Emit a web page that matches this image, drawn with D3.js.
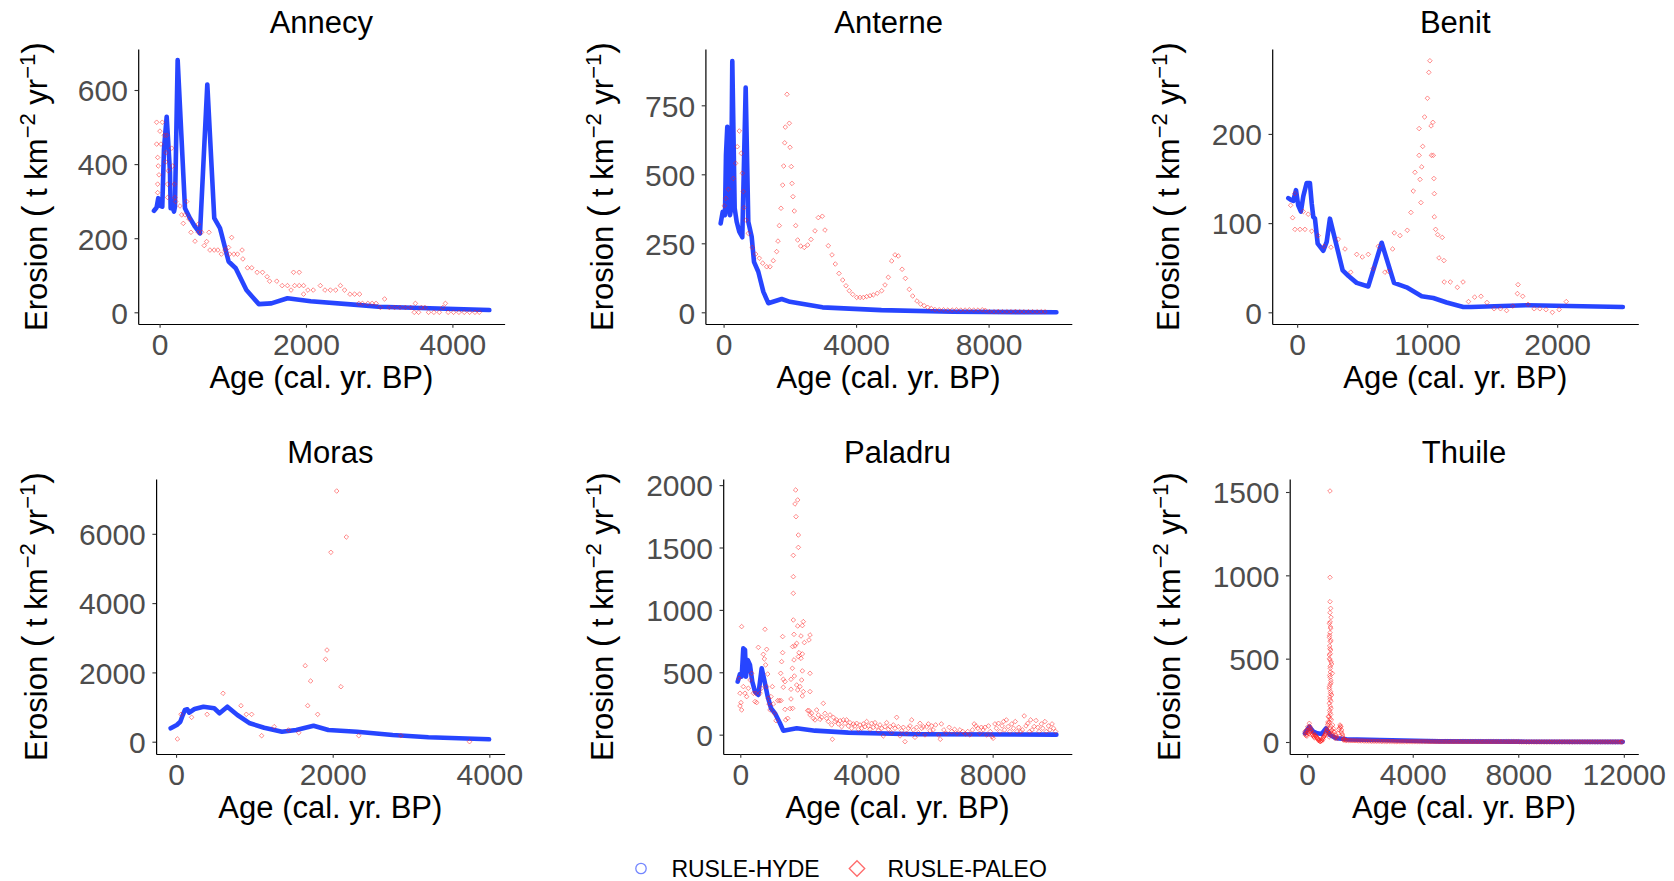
<!DOCTYPE html>
<html>
<head>
<meta charset="utf-8">
<script src="https://cdn.jsdelivr.net/npm/d3@7"></script>
<style>
  body { margin: 0; background: #fff; }
  svg { display: block; font-family: "Liberation Sans", Arial, Helvetica, sans-serif; }
</style>
</head>
<body>
<svg id="chart" width="1674" height="881"></svg>
<script>
// ---------------- data: [age (cal. yr BP), erosion (t km-2 yr-1)] ----------------
const sites = ["Annecy", "Anterne", "Benit", "Moras", "Paladru", "Thuile"];
const seriesNames = ["RUSLE-HYDE", "RUSLE-PALEO"];

const annecyHyde = [[-76,274],[-40,283],[-18,308],[5,288],[37,285],[60,440],[97,528],[142,380],[151,281],[174,285],[197,272],[210,285],[247,681],[347,281],[415,254],[484,231],[552,213],[652,615],[747,254],[825,227],[844,213],[943,137],[1040,119],[1186,60],[1356,22],[1527,24],[1747,38],[2064,30],[2697,20],[2990,15],[4504,6]];
const annecyPaleo = [[-40,513],[37,513],[5,489],[64,478],[97,478],[-40,454],[19,454],[165,443],[87,431],[-26,418],[83,406],[-18,395],[179,395],[119,382],[-8,371],[-26,346],[110,346],[201,346],[-26,323],[110,310],[210,310],[220,299],[370,299],[279,287],[302,263],[347,263],[324,240],[402,252],[529,238],[429,216],[529,216],[575,216],[675,216],[484,192],[643,191],[985,202],
  [610,180],[688,168],[746,168],[796,168],[844,157],[893,168],[942,175],[956,157],[1015,157],[1064,157],[1127,168],[1138,144],[1201,120],[1259,120],[1332,108],[1406,108],[1469,96],[1503,84],[1601,84],[1674,72],[1747,72],[1796,60],[1830,108],[1908,108],[1845,72],[1908,72],[1967,72],[1967,49],[2026,60],[2099,60],[2196,72],[2259,60],[2333,60],[2406,60],[2470,72],[2527,60],[2601,49],[2664,49],[2732,49],[2722,24],[2771,24],[2845,24],[2903,24],[2957,24],[3016,13],[3074,36],[3138,13],[3210,13],[3284,13],[3357,13],[3430,13],[3494,24],[3479,0],[3538,0],[3576,13],[3625,13],[3674,0],[3747,0],[3821,0],[3870,13],[3904,24],[3942,0],[4016,0],[4089,0],[4162,0],[4235,0],[4308,0],[4367,0]];

const anterneHyde = [[-88,322],[-27,364],[42,352],[72,570],[112,672],[154,377],[193,352],[223,371],[263,910],[335,377],[395,328],[474,292],[565,272],[667,814],[746,328],[848,274],[918,183],[1048,147],[1199,75],[1350,33],[1754,48],[2005,38],[2986,18],[4764,8],[6923,2],[10047,0]];
const anternePaleo = [[21,386],[72,413],[142,446],[293,485],[365,540],[414,600],[474,657],[534,576],[565,504],[595,437],[616,379],[676,334],[746,286],[866,235],[969,211],[1078,196],[1180,178],[1301,165],[1401,165],[1500,187],[1603,220],[1642,258],[1682,314],[1733,377],[1784,461],[1814,530],[1845,614],[1863,671],[1914,790],[1984,685],[2005,598],[2044,528],[2065,467],[2095,419],[2134,367],[2177,314],[2237,262],[2328,240],[2436,235],[2539,244],[2639,264],[2759,295],[2859,343],[2980,348],[3061,298],[3161,241],[3273,208],[3372,175],[3484,141],[3596,117],[3695,96],[3795,78],[3898,65],[4018,54],[4118,54],[4218,54],[4320,57],[4420,60],[4519,63],[4640,69],[4773,78],[4873,99],[4972,127],[5075,186],[5175,208],[5274,204],[5389,156],[5489,123],[5606,83],[5709,59],[5838,41],[5947,30],[6053,24],[6162,18],[6270,14],
  [6380,10],[6510,9],[6640,9],[6770,8],[6900,8],[7030,9],[7160,8],[7290,8],[7420,9],[7550,8],[7680,8],[7810,9],[7900,7],[8030,2],[8160,2],[8290,3],[8420,2],[8550,2],[8680,2],[8810,3],[8940,2],[9070,2],[9200,2],[9330,2],[9460,2],[9590,2],[9700,2]];

const benitHyde = [[-68,128],[-48,126],[-30,125],[-9,137],[8,120],[29,113],[47,130],[73,145],[98,145],[112,122],[124,107],[137,105],[158,77],[201,69],[227,79],[252,105],[350,47],[393,41],[458,33],[547,29],[650,78],[745,33],[842,28],[958,18],[1047,16],[1150,11],[1278,6],[1337,6],[1778,8],[2505,6]];
const benitPaleo = [[-50,120],[-17,133],[-35,106],[-17,93],[22,93],[60,93],[47,113],[85,110],[112,91],[162,86],[206,74],[260,73],[316,82],[368,71],[412,45],[458,65],[501,62],[547,65],[585,49],[624,74],[675,45],[701,46],[734,71],[747,89],[791,86],[847,92],
  [875,112],[893,136],[906,157],[938,176],[938,206],[945,149],[952,123],[958,163],[966,186],[980,219],[1002,240],[1013,269],[1021,282],[1030,209],[1044,213],[1033,176],[1047,176],[1052,150],[1055,133],[1055,107],[1065,93],[1081,87],[1116,84],[1091,61],[1129,58],
  [1131,34],[1178,34],[1232,28],[1276,34],[1318,12],[1365,17],[1414,18],[1460,11],[1515,4],[1564,4],[1611,2],[1658,7],[1699,31],[1694,21],[1735,18],[1776,9],[1823,4],[1867,4],[1914,3],[1963,0],[2015,3],[2070,12]];

const morasHyde = [[-69,387],[9,482],[54,577],[86,770],[112,915],[144,935],[167,837],[236,944],[350,1010],[487,964],[555,820],[655,1010],[783,770],[942,531],[1125,404],[1352,289],[1535,338],[1755,462],[1945,338],[2310,289],[2766,193],[3222,127],[3997,69]];
const morasPaleo = [[17,78],[63,790],[199,704],[396,790],[600,1397],[829,1039],[897,790],[965,790],[1093,173],[1253,433],[1435,338],[1567,260],[1649,2193],[1681,1039],[1718,1752],[1808,790],[1909,2378],[1927,2646],[1977,5466],[2051,7235],[2105,1587],[2174,5908],[2333,173],[2871,173],[3747,0]];

const paladruHyde = [[-82,425],[-10,486],[44,465],[95,692],[149,679],[181,465],[235,599],[307,558],[380,425],[466,345],[571,318],[678,532],[761,438],[869,305],[973,212],[1100,171],[1258,91],[1363,32],[1788,51],[2368,32],[3424,16],[5538,3],[10020,0]];
const paladruPaleo = [[43,866],[-41,452],[-9,332],[22,257],[-9,230],[43,198],[96,385],[149,332],[202,305],[255,372],[308,438],[360,492],[413,332],[466,265],[519,257],[487,332],[572,700],[625,332],[677,372],[730,644],[762,607],[783,845],[804,559],[836,684],[836,385],[868,486],[889,292],[910,246],[942,198],[973,305],[1016,385],[1047,246],[1079,171],[1132,112],[1185,273],[1237,273],[1290,273],[1280,492],[1311,585],[1343,786],[1343,657],[1364,444],[1364,380],[1417,425],[1417,203],[1438,118],[1502,131],[1576,209],[1607,364],[1607,444],[1650,532],[1660,706],[1681,919],[1681,1133],[1681,1266],[1681,1437],[1702,804],[1702,599],[1734,1849],[1755,1961],[1766,1747],[1819,1881],[1840,1600],[1840,1501],[1734,711],[1787,732],[1819,871],[1840,625],[1861,657],[1893,385],[1924,612],[1967,874],[1967,647],[1998,906],[1967,511],[1945,438],[1998,345],[1967,310],[1924,791],[2030,738],[2210,799],[2178,759],[2210,492],[2210,345],[1713,470],[1787,398],[1819,358],[1607,286],[1660,211],
  [2136,193],[2178,193],[2210,158],[2262,171],[2315,131],[2368,118],[2421,198],[2474,158],[2527,123],[2579,139],[2632,251],[2685,171],[2738,131],[2791,105],[2844,158],[2896,78],[2918,-37],[2949,139],[3002,105],[3055,118],[3108,86],[3161,112],[3213,64],[3266,118],[3319,91],[3372,118],[3425,70],[3478,96],[3530,51],[3583,86],[3636,70],[3689,91],[3742,43],[3795,78],[3847,51],[3900,86],[3953,64],[4006,105],[4059,70],[4112,43],[4165,91],[4217,59],[4270,96],[4323,64],[4376,32],[4429,78],[4482,51],[4534,-10],[4587,64],[4640,96],[4693,43],[4746,64],[4798,16],[4851,78],[4904,51],[4957,139],[5010,64],[5063,-10],[5116,32],[5168,59],[5221,-56],[5274,11],[5327,51],[5380,70],[5433,118],[5485,38],[5538,-21],[5591,59],[5644,16],[5697,91],[5750,51],[5802,64],[5855,-2],[5908,64],[5961,86],[6014,32],[6067,70],
  [6113,38],[6193,78],[6283,-2],[6340,-37],[6374,86],[6453,38],[6532,11],[6623,59],[6702,25],[6793,43],[6872,11],[6962,38],[7053,25],[7132,6],[7211,25],[7279,-2],[7359,38],[7415,86],[7472,70],[7529,51],[7585,11],[7642,59],[7699,38],[7755,59],[7812,-2],[7868,70],[7925,25],[7981,-16],[8015,-29],[8072,86],[8117,51],[8185,91],[8230,25],[8298,70],[8344,105],[8377,38],[8434,118],[8490,65],[8547,25],[8604,86],[8660,51],[8717,105],[8774,25],[8830,59],[8887,25],[8943,38],[9000,150],[9057,70],[9113,91],[9170,25],[9204,118],[9249,38],[9317,65],[9374,113],[9430,59],[9475,25],[9543,86],[9589,51],[9657,105],[9702,25],[9770,70],[9815,38],[9883,86],[9928,51],[9996,25]];

const thuileHyde = [[-84,52],[80,92],[232,62],[384,52],[548,48],[712,82],[864,42],[1116,22],[1495,16],[2758,12],[5000,4],[8000,2],[11960,1]];
const thuilePaleo = [[-84,62],[-21,42],[43,72],[80,112],[131,82],[169,52],[232,36],[295,42],[358,28],[422,16],[485,2],[548,12],[611,28],[674,42],[737,72],[775,102],[800,152],
  [-60,40],[0,55],[20,90],[60,50],[110,60],[150,70],[200,45],[260,30],[330,35],[400,22],[450,10],[520,8],[580,20],[640,35],[700,55],
  [-70,50],[-40,70],[-10,35],[30,60],[70,85],[100,95],[140,65],[185,40],[215,55],[280,25],[310,38],[345,30],[380,20],[435,8],[470,15],[500,4],[560,6],[600,15],[625,30],[660,40],[690,48],[720,60],[755,85],[785,120],
  [864,1506],[864,988],[864,842],[889,802],[864,776],[902,748],[838,712],[889,682],[864,656],[838,628],[876,602],[851,576],[889,552],[838,522],[864,492],[927,468],[876,442],[952,412],[864,388],[902,356],[838,332],[889,302],[927,282],[864,256],[838,232],[902,202],[864,176],[826,152],[914,132],[800,112],[965,102],[864,82],[762,72],[990,62],
  [870,720],[880,690],[850,640],[895,610],[860,560],[875,530],[845,500],[905,480],[870,455],[880,420],[855,400],[895,370],[870,345],[845,320],[885,290],[860,270],[900,245],[875,215],[850,190],[890,165],[870,140],[840,120],[900,95],[880,60],[855,45],[920,40],[830,30],[940,70],[960,50],[815,60],
  [1242,102],[1306,72],[1343,42],[1179,52],[1091,42],[1369,12],[1053,22],[1000,80],[1030,60],[1120,30],[1200,75],[1280,90],[1320,50],[1400,20],[1070,30],[1150,20],[1225,85],[1260,95],[1290,60],[1335,30],[1380,15],[1430,12],[1460,10],
  [1500,10],[1625,9],[1750,8],[1875,8],[2000,7],[2125,7],[2250,6],[2375,6],[2500,5],[2625,5],[2750,5],[2875,4],[3000,4],[3125,4],[3250,4],[3375,3],[3500,3],[3625,3],[3750,3],[3875,3],[4000,3],[4125,3],[4250,3],[4375,3],[4500,3],
  [1562,9],[1687,8],[1812,8],[1937,7],[2062,7],[2187,6],[2312,6],[2437,5],[2562,5],[2687,5],[2812,4],[2937,4],[3062,4],[3187,4],[3312,3],[3437,3],[3562,3],[3687,3],[3812,3],[3937,3],[4062,3],[4187,3],[4312,3],[4437,3],[4562,2],
  [4625,2],[4750,2],[4875,2],[5000,2],[5125,2],[5250,2],[5375,2],[5500,2],[5625,2],[5750,2],[5875,2],[6000,2],[6125,2],[6250,2],[6375,2],[6500,2],[6625,2],[6750,2],[6875,2],[7000,2],[7125,2],[7250,2],[7375,2],[7500,2],[7625,2],[7750,2],[7875,2],[8000,2],
  [4687,2],[4812,2],[4937,2],[5062,2],[5187,2],[5312,2],[5437,2],[5562,2],[5687,2],[5812,2],[5937,2],[6062,2],[6187,2],[6312,2],[6437,2],[6562,2],[6687,2],[6812,2],[6937,2],[7062,2],[7187,2],[7312,2],[7437,2],[7562,2],[7687,2],[7812,2],[7937,2],
  [8125,1],[8250,1],[8375,1],[8500,1],[8625,1],[8750,1],[8875,1],[9000,1],[9125,1],[9250,1],[9375,1],[9500,1],[9625,1],[9750,1],[9875,1],[10000,1],[10125,1],[10250,1],[10375,1],[10500,1],[10625,1],[10750,1],[10875,1],[11000,1],[11125,1],[11250,1],[11375,1],[11500,1],[11625,1],[11750,1],[11875,1],[11950,1],
  [8062,1],[8187,1],[8312,1],[8437,1],[8562,1],[8687,1],[8812,1],[8937,1],[9062,1],[9187,1],[9312,1],[9437,1],[9562,1],[9687,1],[9812,1],[9937,1],[10062,1],[10187,1],[10312,1],[10437,1],[10562,1],[10687,1],[10812,1],[10937,1],[11062,1],[11187,1],[11312,1],[11437,1],[11562,1],[11687,1],[11812,1],[11912,1]];

const xTickValues = [[0,2000,4000],[0,4000,8000],[0,1000,2000],[0,2000,4000],[0,4000,8000],[0,4000,8000,12000]];
const yTickValues = [[0,200,400,600],[0,250,500,750],[0,100,200],[0,2000,4000,6000],[0,500,1000,1500,2000],[0,500,1000,1500]];

const hydeSeries = [annecyHyde, anterneHyde, benitHyde, morasHyde, paladruHyde, thuileHyde];
const paleoSeries = [annecyPaleo, anternePaleo, benitPaleo, morasPaleo, paladruPaleo, thuilePaleo];

// ---------------- layout of the 3 x 2 grid of panels ----------------
const frames = [
  { left: 138.2,  right: 504.6,  top: 49,  bottom: 324, xDomain: [-292, 4713],  yDomain: [-31.6, 710.7], titleX: 47 },
  { left: 705.4,  right: 1071.8, top: 49,  bottom: 324, xDomain: [-549, 10512], yDomain: [-42.4, 954],   titleX: 612.5 },
  { left: 1272.2, right: 1638.3, top: 49,  bottom: 324, xDomain: [-192, 2624],  yDomain: [-13.1, 295.2], titleX: 1179 },
  { left: 156.1,  right: 504.6,  top: 479, bottom: 754, xDomain: [-255, 4195],  yDomain: [-355, 7582],   titleX: 47 },
  { left: 723.2,  right: 1071.8, top: 479, bottom: 754, xDomain: [-542, 10509], yDomain: [-155, 2049],   titleX: 612.5 },
  { left: 1289.7, right: 1638.3, top: 479, bottom: 754, xDomain: [-663, 12549], yDomain: [-72, 1578],    titleX: 1179.5 }
];

const hydeColor = "#1535ff";
const paleoColor = "#ff1a1a";

// open diamond (square rotated 45 degrees), size = area
const squareDiamond = {
  draw(ctx, size) {
    const r = Math.sqrt(size / 2);
    ctx.moveTo(0, -r); ctx.lineTo(r, 0); ctx.lineTo(0, r); ctx.lineTo(-r, 0); ctx.closePath();
  }
};

const svg = d3.select("#chart");

sites.forEach((site, i) => {
  const f = frames[i];
  const x = d3.scaleLinear().domain(f.xDomain).range([f.left, f.right]);
  const y = d3.scaleLinear().domain(f.yDomain).range([f.bottom, f.top]);
  const g = svg.append("g").attr("class", "panel");

  // RUSLE-HYDE: dense trace drawn as a thick line
  g.append("path")
    .datum(hydeSeries[i])
    .attr("d", d3.line().x(d => x(d[0])).y(d => y(d[1])))
    .attr("fill", "none")
    .attr("stroke", hydeColor)
    .attr("stroke-width", 4.6)
    .attr("stroke-linejoin", "round")
    .attr("stroke-linecap", "round")
    .attr("opacity", 0.92);

  // RUSLE-PALEO: open diamonds
  const sym = d3.symbol().type(squareDiamond).size(10.5);
  g.append("g").selectAll("path")
    .data(paleoSeries[i])
    .join("path")
    .attr("transform", d => `translate(${x(d[0])},${y(d[1])})`)
    .attr("d", sym)
    .attr("fill", "none")
    .attr("stroke", paleoColor)
    .attr("stroke-opacity", 0.5)
    .attr("stroke-width", 1);

  // axes
  const xAxis = g.append("g")
    .attr("transform", `translate(0,${f.bottom})`)
    .call(d3.axisBottom(x).tickValues(xTickValues[i]).tickFormat(d3.format("d")).tickSizeInner(3.7).tickSizeOuter(0));
  const yAxis = g.append("g")
    .attr("transform", `translate(${f.left},0)`)
    .call(d3.axisLeft(y).tickValues(yTickValues[i]).tickFormat(d3.format("d")).tickSizeInner(3.7).tickSizeOuter(0));

  [xAxis, yAxis].forEach(a => {
    a.select(".domain").attr("stroke", "#000").attr("stroke-width", 1.2);
    a.selectAll(".tick line").attr("stroke", "#333").attr("stroke-width", 1.1);
    a.selectAll(".tick text")
      .attr("fill", "#4d4d4d")
      .attr("font-size", 30)
      .attr("font-family", "Liberation Sans, Arial, sans-serif");
  });
  xAxis.selectAll(".tick text").attr("y", 31).attr("dy", 0);
  yAxis.selectAll(".tick text").attr("x", -10.3).attr("dy", "0.36em");

  const cx = (f.left + f.right) / 2;

  // panel title
  g.append("text")
    .attr("x", cx).attr("y", f.top - 16.3)
    .attr("text-anchor", "middle")
    .attr("font-size", 31)
    .attr("fill", "#000")
    .text(site);

  // x-axis title
  g.append("text")
    .attr("x", cx).attr("y", f.bottom + 64)
    .attr("text-anchor", "middle")
    .attr("font-size", 31)
    .attr("fill", "#000")
    .text("Age (cal. yr. BP)");

  // y-axis title with superscript units
  const yt = g.append("text")
    .attr("transform", `translate(${f.titleX},${(f.top + f.bottom) / 2}) rotate(-90)`)
    .attr("text-anchor", "middle")
    .attr("font-size", 31)
    .attr("fill", "#000");
  yt.append("tspan").text("Erosion ");
  yt.append("tspan").attr("font-size", 35).text("(");
  yt.append("tspan").text(" t km");
  yt.append("tspan").attr("font-size", 22).attr("dy", -12).text("\u22122");
  yt.append("tspan").attr("dy", 12).text(" yr");
  yt.append("tspan").attr("font-size", 22).attr("dy", -12).text("\u22121");
  yt.append("tspan").attr("font-size", 35).attr("dy", 12).text(")");
});

// ---------------- legend ----------------
const legend = svg.append("g").attr("class", "legend");
legend.append("circle")
  .attr("cx", 641).attr("cy", 868.5).attr("r", 5.2)
  .attr("fill", "none").attr("stroke", hydeColor).attr("stroke-opacity", 0.6).attr("stroke-width", 1.3);
legend.append("text")
  .attr("x", 671.4).attr("y", 876.5)
  .attr("font-size", 23).attr("fill", "#000")
  .text(seriesNames[0]);
legend.append("path")
  .attr("transform", "translate(857,868.5)")
  .attr("d", d3.symbol().type(squareDiamond).size(120)())
  .attr("fill", "none").attr("stroke", paleoColor).attr("stroke-opacity", 0.65).attr("stroke-width", 1.3);
legend.append("text")
  .attr("x", 887.5).attr("y", 876.5)
  .attr("font-size", 23).attr("fill", "#000")
  .text(seriesNames[1]);
</script>
</body>
</html>
